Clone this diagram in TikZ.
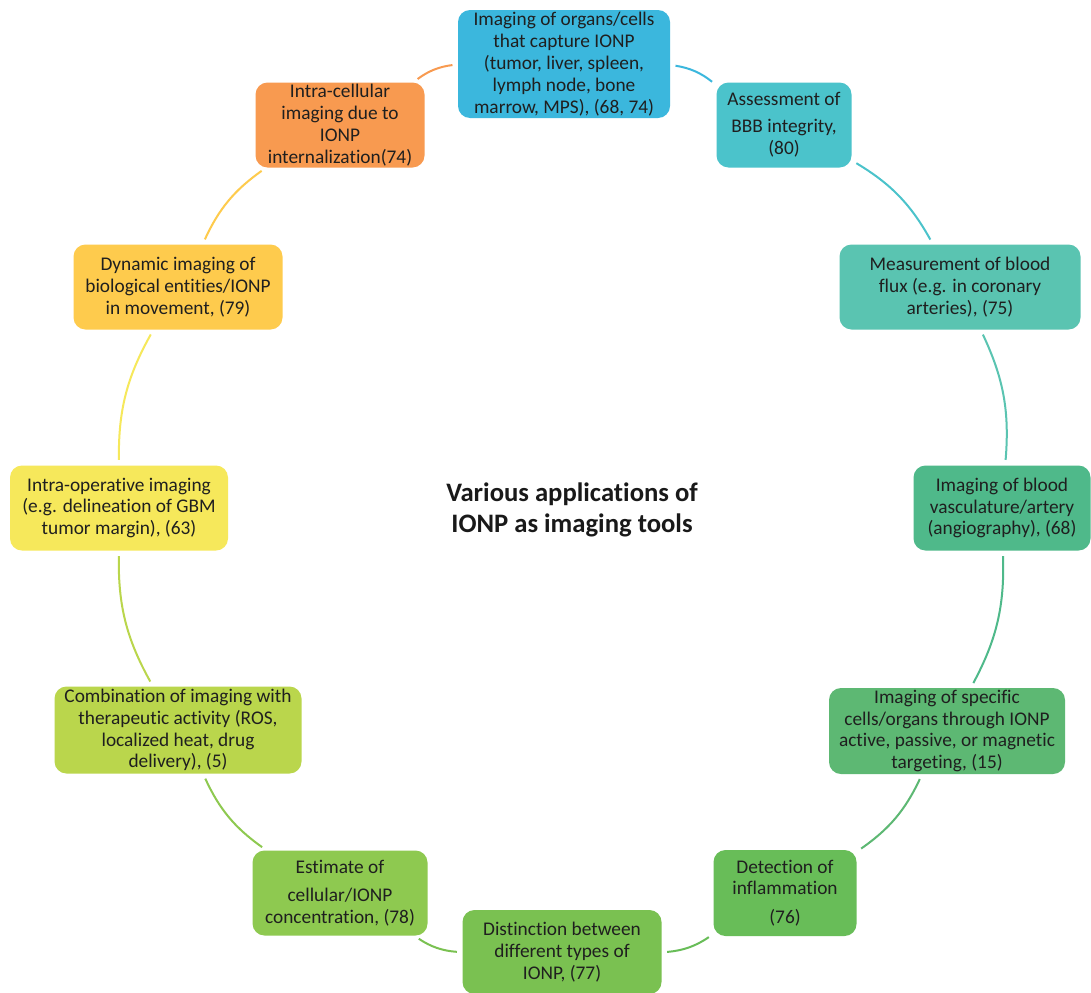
\documentclass[tikz,border=0pt]{standalone}
\usepackage{fontspec}
\setmainfont{Carlito}[Ligatures={NoCommon}]
\begin{document}
\begin{tikzpicture}[x=0.75pt,y=0.75pt,
  box/.style={rounded corners=9pt, align=center, inner sep=1pt, text=black!88,
    font=\fontsize{14.5}{16.4}\selectfont},
  arc/.style={line width=1.5pt, shorten <=4pt, shorten >=4pt}]
\definecolor{c1}{HTML}{3BB7DD}
\definecolor{c2}{HTML}{4BC3CB}
\definecolor{c3}{HTML}{5AC4B1}
\definecolor{c4}{HTML}{4FB98A}
\definecolor{c5}{HTML}{5DB873}
\definecolor{c6}{HTML}{68BD58}
\definecolor{c7}{HTML}{7AC151}
\definecolor{c8}{HTML}{8EC950}
\definecolor{c9}{HTML}{BAD64C}
\definecolor{c10}{HTML}{F6E85B}
\definecolor{c11}{HTML}{FECB4D}
\definecolor{c12}{HTML}{F89A50}
\useasboundingbox (0,0) rectangle (1091,-992);
\fill[white] (0,0) rectangle (1091,-992);

\node[box, fill=c1, minimum width=212*0.75pt, minimum height=108*0.75pt] (n1) at (564,-64)
 {Imaging of organs/cells\\that capture IONP\\(tumor, liver, spleen,\\lymph node, bone\\marrow, MPS), (68, 74)};
\node[box, fill=c2, minimum width=135*0.75pt, minimum height=85*0.75pt] (n2) at (784,-125)
 {Assessment of\\[4pt]BBB integrity,\\(80)};
\node[box, fill=c3, minimum width=241*0.75pt, minimum height=85*0.75pt] (n3) at (960,-287)
 {Measurement of blood\\flux (e.g. in coronary\\arteries), (75)};
\node[box, fill=c4, minimum width=177*0.75pt, minimum height=85*0.75pt] (n4) at (1002,-508)
 {Imaging of blood\\vasculature/artery\\(angiography), (68)};
\node[box, fill=c5, minimum width=236*0.75pt, minimum height=86*0.75pt] (n5) at (947,-731)
 {Imaging of specific\\cells/organs through IONP\\active, passive, or magnetic\\targeting, (15)};
\node[box, fill=c6, minimum width=143*0.75pt, minimum height=86*0.75pt] (n6) at (785,-893)
 {Detection of\\inflammation\\[5pt](76)};
\node[box, fill=c7, minimum width=199*0.75pt, minimum height=84*0.75pt] (n7) at (562,-952)
 {Distinction between\\different types of\\IONP, (77)};
\node[box, fill=c8, minimum width=175*0.75pt, minimum height=85*0.75pt] (n8) at (340,-893)
 {Estimate of\\[5pt]cellular/IONP\\concentration, (78)};
\node[box, fill=c9, minimum width=247*0.75pt, minimum height=87*0.75pt] (n9) at (178,-730)
 {Combination of imaging with\\therapeutic activity (ROS,\\localized heat, drug\\delivery), (5)};
\node[box, fill=c10, minimum width=218*0.75pt, minimum height=85*0.75pt] (n10) at (119,-508)
 {Intra-operative imaging\\(e.g. delineation of GBM\\tumor margin), (63)};
\node[box, fill=c11, minimum width=209*0.75pt, minimum height=85*0.75pt] (n11) at (178,-287)
 {Dynamic imaging of\\biological entities/IONP\\in movement, (79)};
\node[box, fill=c12, minimum width=169*0.75pt, minimum height=85*0.75pt] (n12) at (340,-125)
 {Intra-cellular\\imaging due to\\IONP\\internalization(74)};

\node[align=center, font=\fontsize{20}{23.5}\selectfont\bfseries, text=black!90] (title) at (572,-510)
 {Various applications of\\IONP as imaging tools};

\draw[arc, c1] (n1) to[bend left=15] (n2);
\draw[arc, c2] (n2) to[bend left=15] (n3);
\draw[arc, c3] (n3) to[bend left=15] (n4);
\draw[arc, c4] (n4) to[bend left=15] (n5);
\draw[arc, c5] (n5) to[bend left=15] (n6);
\draw[arc, c6] (n6) to[bend left=15] (n7);
\draw[arc, c7] (n7) to[bend left=15] (n8);
\draw[arc, c8] (n8) to[bend left=15] (n9);
\draw[arc, c9] (n9) to[bend left=15] (n10);
\draw[arc, c10] (n10) to[bend left=15] (n11);
\draw[arc, c11] (n11) to[bend left=15] (n12);
\draw[arc, c12] (n12) to[bend left=15] (n1);
\end{tikzpicture}
\end{document}
